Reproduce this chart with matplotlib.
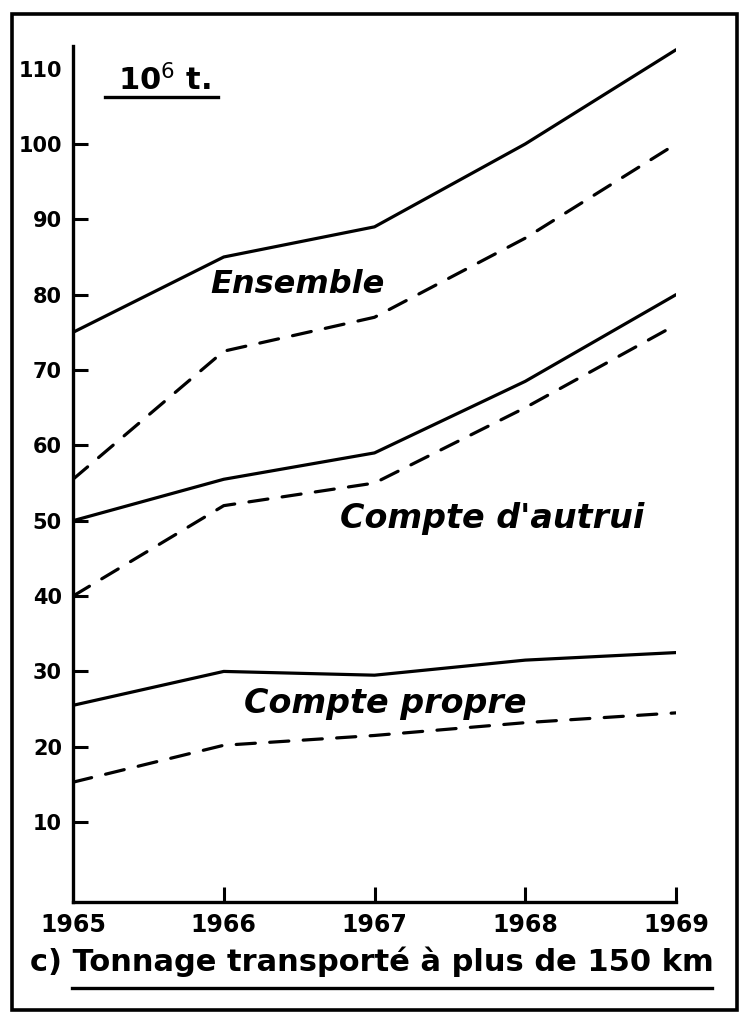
import matplotlib
matplotlib.use("Agg")
import matplotlib.pyplot as plt
from matplotlib.patches import Rectangle
from matplotlib.lines import Line2D

years = [1965, 1966, 1967, 1968, 1969]
ensemble_solid = [75, 85, 89, 100, 112.5]
ensemble_dashed = [55.5, 72.5, 77, 87.5, 100]
autrui_solid = [50, 55.5, 59, 68.5, 80]
autrui_dashed = [40, 52, 55, 65, 76]
propre_solid = [25.5, 30, 29.5, 31.5, 32.5]
propre_dashed = [15.3, 20.2, 21.5, 23.2, 24.5]
ytick_values = [10, 20, 30, 40, 50, 60, 70, 80, 90, 100, 110]
series_labels = ["Ensemble", "Compte d'autrui", "Compte propre"]
unit_label = "10$^6$ t."
caption = "c) Tonnage transporté à plus de 150 km"

W, H = 748, 1016
fig = plt.figure(figsize=(W / 100, H / 100), dpi=100)
fig.patch.set_facecolor("white")

ax = fig.add_axes([73 / W, 1 - 902 / H, (676 - 73) / W, (902 - 46) / H])
ax.set_xlim(1965, 1969)
ax.set_ylim(-0.6, 113)

lw = 2.3
dash = (6.0, 4.5)
ax.plot(years, ensemble_solid, color="black", lw=lw, solid_capstyle="round")
ax.plot(years, ensemble_dashed, color="black", lw=lw, dashes=dash, dash_capstyle="round")
ax.plot(years, autrui_solid, color="black", lw=lw, solid_capstyle="round")
ax.plot(years, autrui_dashed, color="black", lw=lw, dashes=dash, dash_capstyle="round")
ax.plot(years, propre_solid, color="black", lw=lw, solid_capstyle="round")
ax.plot(years, propre_dashed, color="black", lw=lw, dashes=dash, dash_capstyle="round")

for s in ["top", "right"]:
    ax.spines[s].set_visible(False)
for s in ["left", "bottom"]:
    ax.spines[s].set_linewidth(2.4)

ax.set_yticks(ytick_values)
ax.set_yticklabels([str(v) for v in ytick_values], fontsize=15, fontweight="bold")
ax.tick_params(axis="y", direction="in", length=11, width=2.2, pad=8)
ax.yaxis.get_major_ticks()[-1].tick1line.set_visible(False)
ax.set_xticks(years)
ax.set_xticklabels([str(y) for y in years], fontsize=17, fontweight="bold")
ax.tick_params(axis="x", direction="in", length=11, width=2.2, pad=8)
ax.xaxis.get_major_ticks()[0].tick1line.set_visible(False)
ax.patch.set_alpha(0)

# series labels
ax.text(1966.49, 81.3, series_labels[0], fontsize=23, fontweight="bold",
        fontstyle="italic", ha="center", va="center")
ax.text(1967.78, 50.3, series_labels[1], fontsize=24, fontweight="bold",
        fontstyle="italic", ha="center", va="center")
ax.text(1967.07, 25.8, series_labels[2], fontsize=24, fontweight="bold",
        fontstyle="italic", ha="center", va="center")

# unit label
fig.text(164 / W, 1 - 80 / H, unit_label, fontsize=22, fontweight="bold",
         ha="center", va="center")
fig.add_artist(Line2D([105 / W, 218 / W], [1 - 97 / H, 1 - 97 / H],
                      color="black", lw=2.4, transform=fig.transFigure))

# caption
fig.text(372 / W, 1 - 962 / H, caption, fontsize=22, fontweight="bold",
         ha="center", va="center")
fig.add_artist(Line2D([72 / W, 712 / W], [1 - 988 / H, 1 - 988 / H],
                      color="black", lw=2.4, transform=fig.transFigure))

# outer frame
fig.add_artist(Rectangle((12 / W, 1 - 1010 / H), (737 - 12) / W, (1010 - 14) / H,
                         fill=False, edgecolor="black", lw=2.6,
                         transform=fig.transFigure))

fig.savefig("out.png", dpi=100, facecolor="white")
